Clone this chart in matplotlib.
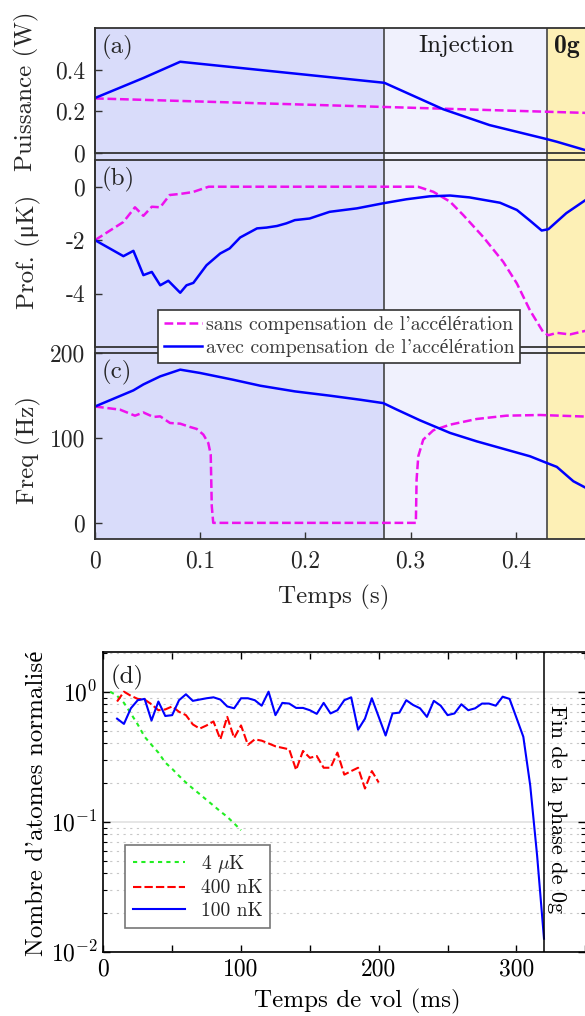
import numpy as np
import matplotlib
matplotlib.use("Agg")
import matplotlib.pyplot as plt
from matplotlib.ticker import FixedLocator, FixedFormatter, LogLocator, NullFormatter

plt.rcParams['font.family'] = ['cmr10', 'Liberation Serif']
plt.rcParams['mathtext.fontset'] = 'cm'
plt.rcParams['axes.formatter.use_mathtext'] = True
plt.rcParams['axes.unicode_minus'] = False

# ---------------- data, top panels (temps en s) ----------------
# (a) puissance (W)
t_pow_sans = [0.0, 0.275, 0.47]
pow_sans = [0.262, 0.221, 0.192]
t_pow_avec = [0.0, 0.046, 0.081, 0.275, 0.331, 0.375, 0.43, 0.439, 0.466, 0.47]
pow_avec = [0.264, 0.36, 0.438, 0.337, 0.21, 0.134, 0.066, 0.054, 0.014, 0.01]

# (b) profondeur (uK)
t_prof_sans = [0.0, 0.027, 0.038, 0.046, 0.054, 0.062, 0.071, 0.081, 0.093, 0.108,
               0.307, 0.3216, 0.3375, 0.35, 0.369, 0.388, 0.401, 0.4135, 0.426,
               0.431, 0.439, 0.4515, 0.47]
prof_sans = [-2.0, -1.32, -0.77, -1.09, -0.75, -0.77, -0.31, -0.27, -0.2, 0.0,
             0.0, -0.19, -0.56, -1.06, -1.88, -2.81, -3.62, -4.63, -5.44,
             -5.56, -5.47, -5.53, -5.36]
t_prof_avec = [0.0, 0.027, 0.0365, 0.046, 0.054, 0.062, 0.0697, 0.081, 0.087, 0.0935,
               0.106, 0.119, 0.128, 0.138, 0.154, 0.163, 0.173, 0.182, 0.19, 0.204,
               0.223, 0.249, 0.274, 0.296, 0.318, 0.3375, 0.356, 0.385, 0.401,
               0.4135, 0.4246, 0.431, 0.448, 0.47]
prof_avec = [-2.0, -2.6, -2.4, -3.31, -3.19, -3.69, -3.52, -3.97, -3.69, -3.6,
             -2.94, -2.5, -2.31, -1.9, -1.56, -1.53, -1.47, -1.37, -1.25, -1.19,
             -0.94, -0.81, -0.62, -0.47, -0.36, -0.33, -0.4, -0.6, -0.87,
             -1.27, -1.64, -1.59, -0.99, -0.4]

# (c) frequence (Hz)
t_freq_sans = [0.0, 0.0238, 0.038, 0.046, 0.0555, 0.062, 0.0713, 0.081, 0.0903, 0.0967,
               0.103, 0.1077, 0.11, 0.111, 0.1124, 0.305, 0.3057, 0.3073, 0.312,
               0.3216, 0.3375, 0.3628, 0.391, 0.423, 0.47]
freq_sans = [137, 133.3, 126.2, 130, 124.7, 125.4, 117.6, 116.8, 112.9, 110.6,
             103.9, 94, 80.4, 19.5, 0, 0, 51, 78.4, 98,
             109, 115.6, 122.3, 126.2, 127, 125]
t_freq_avec = [0.0, 0.0365, 0.046, 0.062, 0.081, 0.0998, 0.131, 0.157, 0.19, 0.223,
               0.252, 0.274, 0.287, 0.309, 0.3375, 0.3628, 0.391, 0.4135, 0.4293,
               0.439, 0.4547, 0.47]
freq_avec = [137, 156, 163, 172.5, 180.4, 176.5, 168.6, 161.5, 154.8, 149.8,
             145, 141, 133.3, 120.7, 105.9, 96, 86.2, 78.4, 70.6,
             65.9, 49, 39]

t_injection = 0.275
t_zero_g = 0.43

# ---------------- data, panel (d) (temps de vol en ms) ----------------
t_4uK = np.arange(5, 101, 5)
n_4uK = [1.0, 0.93, 0.82, 0.68, 0.56, 0.45, 0.39, 0.34, 0.285, 0.255,
         0.225, 0.2, 0.18, 0.163, 0.147, 0.133, 0.12, 0.109, 0.097, 0.086]
t_400nK = np.arange(10, 201, 5)
n_400nK = [0.84, 1.0, 0.93, 0.88, 0.87, 0.80, 0.72, 0.73, 0.77, 0.70,
           0.66, 0.56, 0.52, 0.55, 0.59, 0.43, 0.64, 0.44, 0.55, 0.39,
           0.43, 0.42, 0.40, 0.38, 0.37, 0.36, 0.25, 0.35, 0.31, 0.32,
           0.26, 0.26, 0.34, 0.23, 0.245, 0.26, 0.18, 0.245, 0.20]
t_100nK = np.arange(10, 321, 5)
n_100nK = [0.62, 0.565, 0.745, 0.86, 0.88, 0.60, 0.84, 0.65, 0.66, 0.86,
           0.955, 0.85, 0.87, 0.89, 0.905, 0.87, 0.77, 0.745, 0.89, 0.89,
           0.86, 0.78, 1.0, 0.66, 0.82, 0.81, 0.75, 0.75, 0.72, 0.675,
           0.82, 0.68, 0.72, 0.86, 0.905, 0.51, 0.62, 0.89, 0.64, 0.46,
           0.68, 0.69, 0.86, 0.79, 0.745, 0.64, 0.85, 0.78, 0.66, 0.68,
           0.80, 0.72, 0.745, 0.81, 0.81, 0.78, 0.915, 0.88, 0.63, 0.45,
           0.19, 0.055, 0.0126]
t_fin_0g = 320

# ---------------- layout ----------------
W, H = 585, 1016
def box(l, t, r, b):
    return [l / W, 1 - b / H, (r - l) / W, (b - t) / H]

MAGENTA = '#ee11ee'
BLUE = '#0000ff'
DARK = '#333333'
dash_m = (0, (3.5, 1.5))

fig = plt.figure(figsize=(W / 100, H / 100), dpi=100)

# background with the phases
bg = fig.add_axes(box(95, 28, 621, 539))
bg.set_xlim(0, 0.5)
bg.set_ylim(0, 1)
bg.axvspan(0, t_injection, color='#d9dcfa', lw=0)
bg.axvspan(t_injection, t_zero_g, color='#f0f1fd', lw=0)
bg.axvspan(t_zero_g, 0.5, color='#fdf0b6', lw=0)
bg.axvline(t_injection, color='#444444', lw=1.2)
bg.axvline(t_zero_g, color='#444444', lw=1.2)
bg.set_xticks([])
bg.set_yticks([])
for s in ['top', 'right', 'bottom']:
    bg.spines[s].set_visible(False)
bg.spines['left'].set_color(DARK)
bg.spines['left'].set_linewidth(1.3)

axa = fig.add_axes(box(95, 28, 621, 153), facecolor='none')
axb = fig.add_axes(box(95, 160, 621, 347), facecolor='none')
axc = fig.add_axes(box(95, 353, 621, 539), facecolor='none')

axa.plot(t_pow_sans, pow_sans, color=MAGENTA, lw=1.8, ls=dash_m)
axa.plot(t_pow_avec, pow_avec, color=BLUE, lw=1.8)
lsans, = axb.plot(t_prof_sans, prof_sans, color=MAGENTA, lw=1.8, ls=dash_m)
lavec, = axb.plot(t_prof_avec, prof_avec, color=BLUE, lw=1.8)
axc.plot(t_freq_sans, freq_sans, color=MAGENTA, lw=1.8, ls=dash_m)
axc.plot(t_freq_avec, freq_avec, color=BLUE, lw=1.8)

axa.set_ylim(0, 0.6)
axb.set_ylim(-6, 1)
axc.set_ylim(-19, 200)
yt = {axa: ([0, 0.2, 0.4], ['0', '0.2', '0.4']),
      axb: ([-4, -2, 0], ['-4', '-2', '0']),
      axc: ([0, 100, 200], ['0', '100', '200'])}
for ax in (axa, axb, axc):
    ax.set_xlim(0, 0.5)
    for s in ax.spines.values():
        s.set_color(DARK)
        s.set_linewidth(1.3)
    ax.spines['right'].set_visible(False)
    ax.yaxis.set_major_locator(FixedLocator(yt[ax][0]))
    ax.yaxis.set_major_formatter(FixedFormatter(yt[ax][1]))
    ax.tick_params(axis='y', direction='in', length=5, width=1, color=DARK,
                   labelsize=17, labelcolor='#262626', pad=7)
for ax in (axa, axb):
    ax.set_xticks([])
axc.set_xticks([0, 0.1, 0.2, 0.3, 0.4])
axc.set_xticklabels(['0', '0.1', '0.2', '0.3', '0.4'])
axc.tick_params(axis='x', direction='in', length=5, width=1, color=DARK,
                labelsize=17, labelcolor='#262626', pad=8)

for ax, lab in ((axa, '(a)'), (axb, '(b)'), (axc, '(c)')):
    ax.text(7 / 526, 1 - 7 / ax.bbox.height * 1, lab, transform=ax.transAxes,
            ha='left', va='top', fontsize=18, color='#262626')
axa.text((t_injection + t_zero_g) / 2, 1 - 7 / 125, 'Injection', transform=axa.get_xaxis_transform(),
         ha='center', va='top', fontsize=18, color='#1a1a1a')
axa.text(0.4365, 1 - 7 / 125, '0g', transform=axa.get_xaxis_transform(),
         ha='left', va='top', fontsize=18.5, family=['cmb10', 'DejaVu Serif'], color='#1a1a1a')

fig.text(26 / W, 1 - 91 / H, 'Puissance (W)', rotation=90, ha='center', va='center',
         fontsize=18, color='#262626')
fig.text(28 / W, 1 - 252 / H, 'Prof. (\u03bcK)', rotation=90, ha='center', va='center',
         fontsize=18, color='#262626')
fig.text(28 / W, 1 - 450 / H, 'Freq (Hz)', rotation=90, ha='center', va='center',
         fontsize=18, color='#262626')
fig.text(334 / W, 1 - 597 / H, 'Temps (s)', ha='center', va='center',
         fontsize=18, color='#262626')

leg = fig.legend([lsans, lavec],
                 ["sans compensation de l'accélération", "avec compensation de l'accélération"],
                 loc='upper left', bbox_to_anchor=(158 / W, 1 - 310 / H), borderaxespad=0,
                 fontsize=14.3, fancybox=False, framealpha=1, edgecolor=DARK,
                 borderpad=0.3, handlelength=1.9, handletextpad=0.2, labelspacing=0.25)
leg.get_frame().set_linewidth(1.2)
for txt in leg.get_texts():
    txt.set_color('#3a3a3a')

# ---------------- panel (d) ----------------
axd = fig.add_axes(box(103.3, 651.7, 585.3, 951.7))
axd.set_yscale('log')
axd.set_xlim(0, 350)
axd.set_ylim(0.01, 2.03)
axd.set_axisbelow(True)
axd.yaxis.grid(True, which='major', color='#e2e2e2', lw=1.2, ls='-')
axd.yaxis.grid(True, which='minor', color='#c8c8c8', lw=0.8, ls=(0, (2, 4)))

axd.plot(t_4uK, n_4uK, color='#22ee22', lw=1.5, ls=(0, (2, 2)), label=r'4 $\mu$K')
axd.plot(t_400nK, n_400nK, color='#ff0000', lw=1.5, ls=(0, (4, 1.5)), label='400 nK')
axd.plot(t_100nK, n_100nK, color='#0000ff', lw=1.5, label='100 nK')
axd.axvline(t_fin_0g, color='black', lw=1.1)

axd.set_xticks(np.arange(0, 351, 50))
axd.set_xticklabels(['0', '', '100', '', '200', '', '300', ''])
axd.yaxis.set_major_locator(LogLocator(base=10, numticks=10))
axd.yaxis.set_minor_locator(LogLocator(base=10, subs=np.arange(2, 10), numticks=20))
axd.yaxis.set_minor_formatter(NullFormatter())
axd.tick_params(which='both', direction='in', top=True, right=True, color='black')
axd.tick_params(which='major', length=5, width=1, labelsize=17, pad=4)
axd.tick_params(which='minor', length=3, width=0.8)
axd.tick_params(axis='x', pad=5)
for s in axd.spines.values():
    s.set_linewidth(1.2)
axd.spines['right'].set_visible(False)

axd.text(7.4 / 482, 1 - 13 / 300, '(d)', transform=axd.transAxes, ha='left', va='top',
         fontsize=18, color='#1a1a1a')
axd.text(329, (951.7 - 809) / 300, 'Fin de la phase de 0g', rotation=270,
         transform=axd.get_xaxis_transform(), ha='center', va='center', fontsize=16)

legd = axd.legend(loc='lower left', bbox_to_anchor=((125 - 103.3) / 482, (951.7 - 928) / 300),
                  borderaxespad=0, fontsize=14, fancybox=False, framealpha=1,
                  edgecolor='#777777', handlelength=2.7, handletextpad=0.8,
                  labelspacing=0.25, borderpad=0.4)
legd.get_frame().set_linewidth(1.2)
for txt in legd.get_texts():
    txt.set_color('#262626')

fig.text(37 / W, 1 - 803 / H, "Nombre d'atomes normalisé", rotation=90, ha='center',
         va='center', fontsize=18)
fig.text(357 / W, 1 - 1001 / H, 'Temps de vol (ms)', ha='center', va='center', fontsize=18)

fig.savefig('out.png', dpi=100)
